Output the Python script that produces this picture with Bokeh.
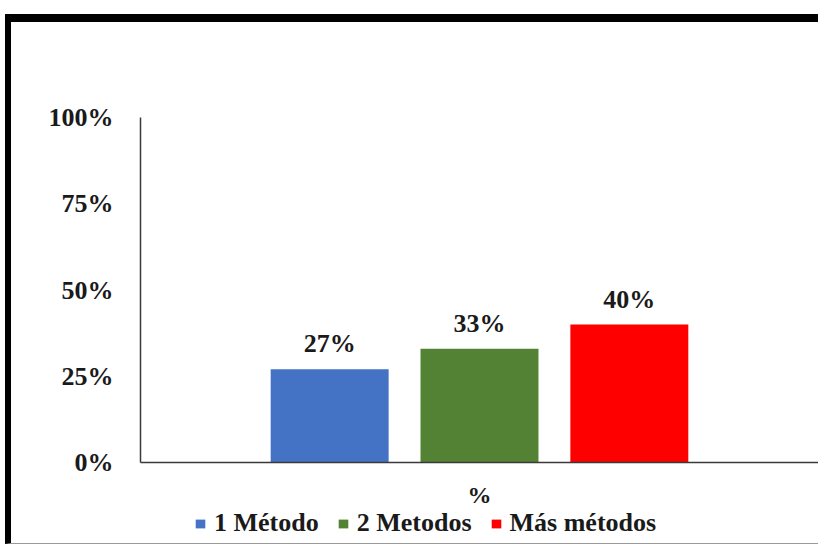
from bokeh.plotting import figure
from bokeh.layouts import column
from bokeh.models import (ColumnDataSource, FactorRange, Range1d, NumeralTickFormatter,
                          FixedTicker, LabelSet, Legend, LegendItem)
from bokeh.transform import dodge
from bokeh.embed import file_html
from bokeh.resources import INLINE

categories = ["%"]
series = ["1 Método", "2 Metodos", "Más métodos"]
values = [0.27, 0.33, 0.40]
value_labels = ["27%", "33%", "40%"]
colors = ["#4472C4", "#548235", "#FF0000"]
y_ticks = [0, 0.25, 0.5, 0.75, 1.0]

FONT = "Liberation Serif"
TXT = "#1a1a1a"
FS = "26px"

p = figure(width=813, height=492, x_range=FactorRange(factors=categories, range_padding=0),
           y_range=Range1d(0, 1), output_backend="svg", toolbar_location=None,
           min_border_left=129, min_border_right=6, min_border_top=95, min_border_bottom=52)
p.margin = (14, 0, 0, 5)
p.styles = {"border-top": "8px solid black", "border-left": "6px solid black"}
p.outline_line_color = None
p.background_fill_color = "white"
p.border_fill_color = "white"
p.xgrid.grid_line_color = None
p.ygrid.grid_line_color = None

offsets = [-0.221, 0.0, 0.221]
sources = []
for i, name in enumerate(series):
    src = ColumnDataSource(dict(x=categories, top=[values[i]], lab=[value_labels[i]]))
    sources.append(src)
    p.vbar(x=dodge("x", offsets[i], range=p.x_range), top="top", bottom=0, width=0.174,
           source=src, fill_color=colors[i], line_color=None)
    lbl = LabelSet(x=dodge("x", offsets[i], range=p.x_range), y="top", text="lab", source=src,
                   text_align="center", text_baseline="bottom", y_offset=11,
                   text_font=FONT, text_font_style="bold", text_font_size=FS,
                   text_color=TXT)
    p.add_layout(lbl)

p.yaxis.ticker = FixedTicker(ticks=y_ticks)
p.yaxis.formatter = NumeralTickFormatter(format="0%")
for ax in (p.xaxis, p.yaxis):
    ax.major_tick_line_color = None
    ax.minor_tick_line_color = None
    ax.axis_line_color = "#3a3a3a"
    ax.axis_line_width = 1.5
    ax.major_label_text_font = FONT
    ax.major_label_text_font_style = "bold"
    ax.major_label_text_color = TXT
p.yaxis.major_label_text_font_size = FS
p.xaxis.major_label_text_font_size = "24px"
p.yaxis.major_label_standoff = 21
p.xaxis.major_label_standoff = 13

# legend strip below the chart
lf = figure(width=813, height=38, x_range=FactorRange(factors=categories), y_range=Range1d(0, 1),
            x_axis_type=None, y_axis_type=None, output_backend="svg", toolbar_location=None,
            min_border=0)
lf.margin = (0, 0, 0, 5)
lf.styles = {"border-left": "6px solid black", "border-bottom": "1px solid #9a9a9a"}
lf.outline_line_color = None
lf.xgrid.grid_line_color = None
lf.ygrid.grid_line_color = None
items = []
for i, name in enumerate(series):
    r = lf.vbar(x="x", top="top", width=0.1, source=sources[i],
                fill_color=colors[i], line_color=None, visible=False)
    items.append(LegendItem(label=name, renderers=[r]))
legend = Legend(items=items, orientation="horizontal", location=(54, 6),
                glyph_width=12, glyph_height=11, label_standoff=8, spacing=18,
                padding=0, margin=0, border_line_color=None, background_fill_alpha=0,
                inactive_fill_alpha=0,
                label_text_font=FONT, label_text_font_style="bold",
                label_text_font_size=FS, label_text_color=TXT)
lf.add_layout(legend, "center")

layout = column(p, lf, spacing=0)
open("out.html", "w").write(file_html(layout, INLINE))
